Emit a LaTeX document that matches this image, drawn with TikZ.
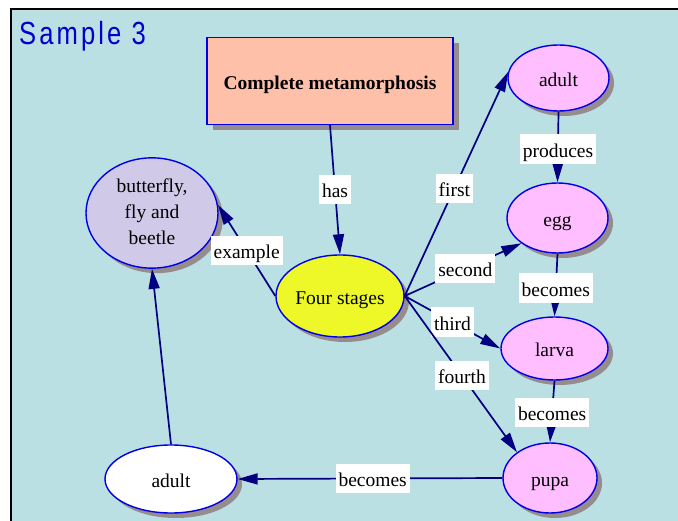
\documentclass[tikz,border=0pt]{standalone}
\usepackage{fontspec}
\setmainfont{Liberation Serif}
\newfontfamily\headfont[LetterSpace=12]{Liberation Sans}
\usetikzlibrary{arrows.meta,shapes.geometric,shadows}

\definecolor{paneBg}{RGB}{186,224,228}
\definecolor{frameBlue}{RGB}{0,0,230}
\definecolor{linkNavy}{RGB}{0,0,128}
\definecolor{shade}{RGB}{150,140,142}
\definecolor{titleFill}{RGB}{255,192,170}
\definecolor{groupFill}{RGB}{208,202,232}
\definecolor{hubFill}{RGB}{238,248,40}
\definecolor{stageFill}{RGB}{255,190,255}
\definecolor{headBlue}{RGB}{0,0,204}

\tikzset{
  concept/.style={ellipse, draw=frameBlue, line width=1.4pt, align=center,
    inner sep=0pt, font=\fontsize{19.5}{26}\selectfont,
    drop shadow={shadow xshift=5pt, shadow yshift=-5pt, fill=shade, opacity=1}},
  oneline/.style={text height=17pt, text depth=0pt},
  titlebox/.style={rectangle, draw=frameBlue, line width=1.4pt, fill=titleFill,
    minimum width=246pt, minimum height=87pt, inner sep=0pt,
    text height=17pt, text depth=0pt,
    font=\fontsize{19.5}{22}\selectfont\bfseries,
    drop shadow={shadow xshift=6pt, shadow yshift=-6pt, fill=shade, opacity=1}},
  lbl/.style={fill=white, inner sep=3pt, text height=20pt, text depth=3.5pt,
    font=\fontsize{19.5}{22}\selectfont},
  link/.style={draw=linkNavy, line width=1.7pt,
    -{Triangle[length=20pt,width=11pt]}}
}

\begin{document}
\begin{tikzpicture}[x=1pt, y=-1pt]
  \useasboundingbox (0,0) rectangle (678,521);
  \fill[white] (0,0) rectangle (678,521);
  % panel with its framing edges
  \fill[paneBg] (11,8.75) rectangle (678,521);
  \draw[black, line width=2.4pt] (11,521) -- (11,8.75) -- (678,8.75);

  \node[anchor=base west, text=headBlue, inner sep=0pt,
        font=\headfont\fontsize{32}{32}\selectfont] (head) at (19,45)
        {\scalebox{0.8}[1]{Sample 3}};

  % concepts
  \node[titlebox] (title) at (330,81) {Complete metamorphosis};
  \node[concept, fill=groupFill, minimum width=132pt, minimum height=100pt]
        (group) at (152,213)
        {\raisebox{-3pt}{\begin{tabular}{@{}c@{}}butterfly,\\fly and\\beetle\end{tabular}}};
  \node[concept, oneline, fill=hubFill, minimum width=128pt, minimum height=82pt]
        (hub) at (340,296) {Four stages};
  \node[concept, oneline, fill=stageFill, minimum width=101pt, minimum height=66pt]
        (adultA) at (558.5,78) {adult};
  \node[concept, oneline, fill=stageFill, minimum width=101pt, minimum height=70pt]
        (egg) at (557.5,218) {egg};
  \node[concept, oneline, fill=stageFill, minimum width=107pt, minimum height=63pt]
        (larva) at (554.5,348.5) {larva};
  \node[concept, oneline, fill=stageFill, minimum width=94pt, minimum height=70pt]
        (pupa) at (550,478) {pupa};
  \node[concept, oneline, fill=white, minimum width=132pt, minimum height=68pt]
        (adultB) at (171,479) {adult};

  % links
  \draw[link] (title.south) -- node[lbl, pos=0.5] {has} (hub.north);
  \draw[link] (hub.west) -- node[lbl, pos=0.5] {example} (group.7);
  \draw[link] (hub.east) -- node[lbl, pos=0.48] {first} (adultA.173);
  \draw[link] (hub.east) -- node[lbl, pos=0.52] {second} (egg.215);
  \draw[link] (hub.east) -- node[lbl, pos=0.5] {third} (larva.west);
  \draw[link] (hub.east) -- node[lbl, pos=0.51] {fourth} (pupa.142);
  \draw[link] (adultA.south) -- node[lbl, pos=0.53] {produces} (egg.north);
  \draw[link] (egg.south) -- node[lbl, pos=0.55] {becomes} (larva.north);
  \draw[link] (larva.south) -- node[lbl, pos=0.52] {becomes} (pupa.north);
  \draw[link] (pupa.west) -- node[lbl, pos=0.49] {becomes} (adultB.east);
  \draw[link] (adultB.north) -- (group.south);
\end{tikzpicture}
\end{document}
